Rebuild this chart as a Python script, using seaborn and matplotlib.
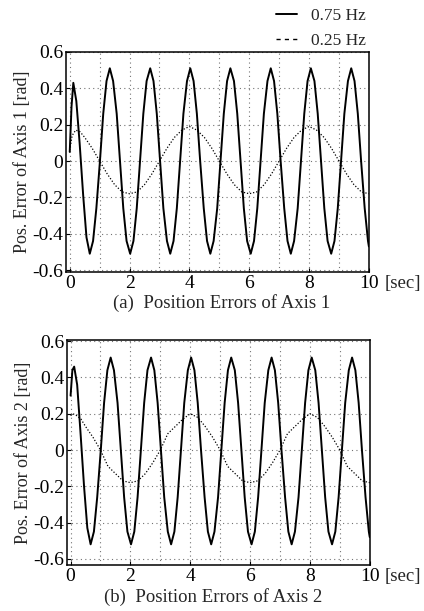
import matplotlib
matplotlib.use('Agg')
import matplotlib.pyplot as plt
from matplotlib.lines import Line2D
import pandas as pd
import seaborn as sns

# time samples for the 0.75 Hz run (same for both axes)
t_fast = [0.00, 0.06, 0.12, 0.22, 0.33, 0.45, 0.56, 0.67,
          0.78, 0.89, 1.01, 1.12, 1.23, 1.34, 1.45, 1.57, 1.68, 1.79, 1.90, 2.02,
          2.13, 2.24, 2.35, 2.46, 2.57, 2.69, 2.80, 2.91, 3.02, 3.13, 3.25, 3.36,
          3.47, 3.58, 3.69, 3.80, 3.92, 4.03, 4.14, 4.25, 4.36, 4.48, 4.59, 4.70,
          4.81, 4.93, 5.04, 5.15, 5.26, 5.37, 5.49, 5.60, 5.71, 5.82, 5.93, 6.05,
          6.16, 6.27, 6.38, 6.49, 6.61, 6.72, 6.83, 6.94, 7.05, 7.17, 7.28, 7.39,
          7.50, 7.62, 7.73, 7.84, 7.95, 8.06, 8.18, 8.29, 8.40, 8.51, 8.62, 8.74,
          8.85, 8.96, 9.07, 9.18, 9.30, 9.41, 9.52, 9.63, 9.74, 9.86, 9.97, 10.00]

err1_fast = [0.05, 0.30, 0.43, 0.33, 0.10, -0.19, -0.42, -0.51,
             -0.44, -0.26, 0.00, 0.26, 0.44, 0.51, 0.44, 0.26, 0.00, -0.26, -0.44, -0.51,
             -0.44, -0.26, 0.00, 0.26, 0.44, 0.51, 0.44, 0.26, 0.00, -0.26, -0.44, -0.51,
             -0.44, -0.26, 0.00, 0.26, 0.44, 0.51, 0.44, 0.26, 0.00, -0.26, -0.44, -0.51,
             -0.44, -0.26, 0.00, 0.26, 0.44, 0.51, 0.44, 0.26, 0.00, -0.26, -0.44, -0.51,
             -0.44, -0.26, 0.00, 0.26, 0.44, 0.51, 0.44, 0.26, 0.00, -0.26, -0.44, -0.51,
             -0.44, -0.26, 0.00, 0.26, 0.44, 0.51, 0.44, 0.26, 0.00, -0.26, -0.44, -0.51,
             -0.44, -0.26, 0.00, 0.26, 0.44, 0.51, 0.44, 0.26, 0.00, -0.26, -0.44, -0.47]

err2_fast = [0.30, 0.44, 0.46, 0.36, 0.10, -0.20, -0.43, -0.52,
             -0.45, -0.26, 0.00, 0.26, 0.44, 0.51, 0.44, 0.26, 0.00, -0.26, -0.45, -0.52,
             -0.45, -0.26, 0.00, 0.26, 0.44, 0.51, 0.44, 0.26, 0.00, -0.26, -0.45, -0.52,
             -0.45, -0.26, 0.00, 0.26, 0.44, 0.51, 0.44, 0.26, 0.00, -0.26, -0.45, -0.52,
             -0.45, -0.26, 0.00, 0.26, 0.44, 0.51, 0.44, 0.26, 0.00, -0.26, -0.45, -0.52,
             -0.45, -0.26, 0.00, 0.26, 0.44, 0.51, 0.44, 0.26, 0.00, -0.26, -0.45, -0.52,
             -0.45, -0.26, 0.00, 0.26, 0.44, 0.51, 0.44, 0.26, 0.00, -0.26, -0.45, -0.52,
             -0.45, -0.26, 0.00, 0.26, 0.44, 0.51, 0.44, 0.26, 0.00, -0.26, -0.45, -0.48]

# time samples for the 0.25 Hz run
t_slow = [0.00, 0.08, 0.20, 0.35, 0.50, 0.75, 1.00, 1.25, 1.50, 1.75, 2.00,
          2.25, 2.50, 2.75, 3.00, 3.25, 3.50, 3.75, 4.00, 4.25, 4.50, 4.75, 5.00,
          5.25, 5.50, 5.75, 6.00, 6.25, 6.50, 6.75, 7.00, 7.25, 7.50, 7.75, 8.00,
          8.25, 8.50, 8.75, 9.00, 9.25, 9.50, 9.75, 10.00]

err1_slow = [0.06, 0.14, 0.17, 0.16, 0.13, 0.07, 0.00, -0.07, -0.13, -0.17, -0.18,
             -0.17, -0.13, -0.07, 0.00, 0.07, 0.13, 0.17, 0.19, 0.17, 0.13, 0.07, 0.00,
             -0.07, -0.13, -0.17, -0.18, -0.17, -0.13, -0.07, 0.00, 0.07, 0.13, 0.17, 0.19,
             0.17, 0.13, 0.07, 0.00, -0.07, -0.13, -0.17, -0.18]

err2_slow = [0.19, 0.20, 0.19, 0.17, 0.13, 0.07, 0.00, -0.09, -0.13, -0.17, -0.18,
             -0.17, -0.13, -0.07, 0.00, 0.09, 0.13, 0.17, 0.20, 0.18, 0.13, 0.07, 0.00,
             -0.09, -0.13, -0.17, -0.18, -0.17, -0.13, -0.07, 0.00, 0.09, 0.13, 0.17, 0.20,
             0.18, 0.13, 0.07, 0.00, -0.09, -0.13, -0.17, -0.18]

panels = [
    ('Pos. Error of Axis 1 [rad]', '(a)  Position Errors of Axis 1', err1_fast, err1_slow),
    ('Pos. Error of Axis 2 [rad]', '(b)  Position Errors of Axis 2', err2_fast, err2_slow),
]

sns.set_style('ticks')
plt.rcParams['font.family'] = ['Liberation Serif', 'DejaVu Serif']
plt.rcParams['axes.unicode_minus'] = False

fig = plt.figure(figsize=(4.24, 6.11), dpi=100)
boxes = [[0.156, 0.555, 0.714, 0.360], [0.158, 0.075, 0.714, 0.368]]
ylims = [(-0.61, 0.60), (-0.635, 0.605)]
title_pos = [(0.522, 0.504), (0.503, 0.023)]

for (ylab, title, fast, slow), box, ylim, (tx, ty) in zip(panels, boxes, ylims, title_pos):
    ax = fig.add_axes(box)
    fast_df = pd.DataFrame({'t': t_fast, 'err': fast})
    slow_df = pd.DataFrame({'t': t_slow, 'err': slow})
    sns.lineplot(data=fast_df, x='t', y='err', color='black', linewidth=1.4, ax=ax)
    sns.lineplot(data=slow_df, x='t', y='err', color='black', linewidth=0.9,
                 linestyle=(0, (1, 1.5)), ax=ax)
    ax.set_xlim(-0.12, 10.0)
    ax.set_ylim(*ylim)
    ax.set_xticks([0, 2, 4, 6, 8, 10])
    ax.set_xticks([1, 3, 5, 7, 9], minor=True)
    ax.set_yticks([-0.6, -0.4, -0.2, 0, 0.2, 0.4, 0.6])
    ax.set_yticklabels(['-0.6', '-0.4', '-0.2', '0', '0.2', '0.4', '0.6'])
    ax.grid(True, which='both', axis='x', color='0.45', linestyle=(0, (1, 3)), linewidth=0.8)
    ax.grid(True, which='major', axis='y', color='0.45', linestyle=(0, (1, 3)), linewidth=0.8)
    ax.tick_params(axis='both', which='major', direction='in', length=3, labelsize=14,
                   pad=2, colors='black')
    ax.tick_params(axis='x', which='minor', length=0)
    for s in ax.spines.values():
        s.set_visible(True)
        s.set_linewidth(1.1)
        s.set_color('black')
    ax.set_xlabel('')
    ax.set_ylabel(ylab, fontsize=13, labelpad=1)
    ax.annotate('[sec]', xy=(1, 0), xycoords='axes fraction', xytext=(11, -2),
                textcoords='offset points', fontsize=13.5, ha='left', va='top')
    fig.text(tx, ty, title, fontsize=13.5, ha='center', va='center')

handles = [Line2D([], [], color='black', linewidth=1.4),
           Line2D([], [], color='black', linewidth=1.0, linestyle=(0, (3, 3)))]
fig.legend(handles, ['0.75 Hz', '0.25 Hz'], loc='upper right',
           bbox_to_anchor=(0.90, 1.012), frameon=False, fontsize=12.5,
           handlelength=1.2, handletextpad=0.8, labelspacing=0.5)

fig.savefig('out.png', dpi=100)
